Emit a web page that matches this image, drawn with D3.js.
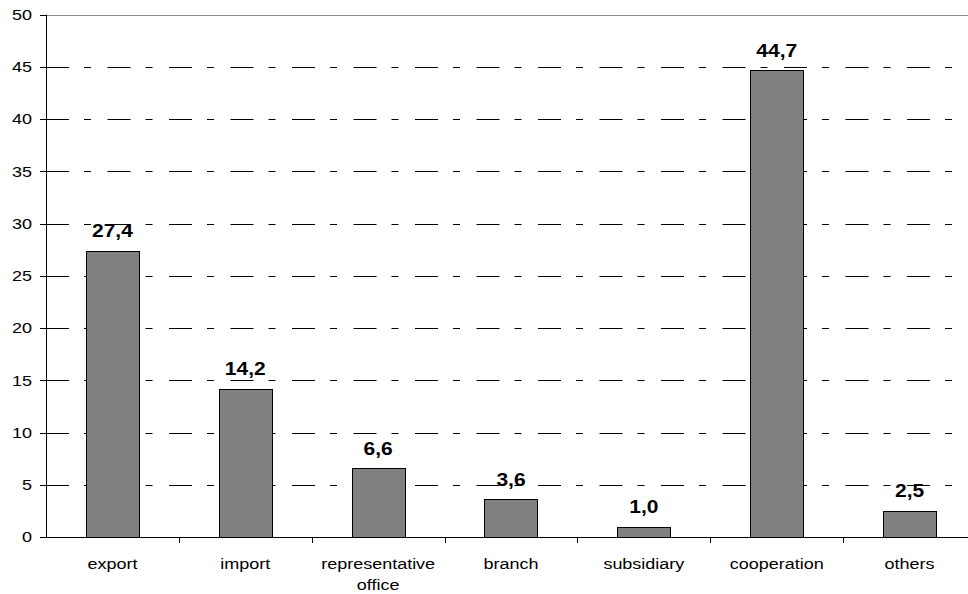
<!DOCTYPE html>
<html>
<head>
<meta charset="utf-8">
<script src="https://cdn.jsdelivr.net/npm/d3@7"></script>
<style>
  html, body { margin: 0; padding: 0; background: #fff; overflow: hidden; }
  svg { display: block; font-family: "Liberation Sans", Arial, sans-serif; }
</style>
</head>
<body>
<svg id="chart" width="968" height="594"></svg>
<script>
const categories = ["export", "import", "representative office", "branch", "subsidiary", "cooperation", "others"];
const values = [27.4, 14.2, 6.6, 3.6, 1.0, 44.7, 2.5];
const valueLabels = ["27,4", "14,2", "6,6", "3,6", "1,0", "44,7", "2,5"];
const yTicks = [0, 5, 10, 15, 20, 25, 30, 35, 40, 45, 50];

(function () {
const svg = d3.select("#chart");
const mLeft = 46, mRight = 976, mTop = 14.7, mBottom = 537;
const SX = 1.2; // horizontal stretch of the original text

const x = d3.scaleBand().domain(categories).range([mLeft, mRight]).paddingInner(0).paddingOuter(0);
const y = d3.scaleLinear().domain([0, 50]).range([mBottom, mTop]);
const barW = x.bandwidth() * 0.4;

// gridlines
svg.append("g").selectAll("line").data(yTicks.filter(d => d > 0 && d < 50)).join("line")
  .attr("x1", mLeft).attr("x2", 968)
  .attr("y1", d => Math.round(y(d)) + 0.5).attr("y2", d => Math.round(y(d)) + 0.5)
  .attr("stroke", "#000").attr("stroke-width", 1)
  .attr("stroke-dasharray", "23,15,7,16.5");
// top border
svg.append("line").attr("x1", mLeft).attr("x2", 968)
  .attr("y1", Math.round(y(50)) + 0.5).attr("y2", Math.round(y(50)) + 0.5)
  .attr("stroke", "#8a8a8a").attr("stroke-width", 1);

// bars
svg.append("g").selectAll("rect").data(values).join("rect")
  .attr("x", (d, i) => Math.round(x(categories[i]) + (x.bandwidth() - barW) / 2) + 0.5)
  .attr("y", d => Math.round(y(d)) + 0.5)
  .attr("width", Math.round(barW))
  .attr("height", d => Math.round(y(0)) - Math.round(y(d)))
  .attr("fill", "#808080").attr("stroke", "#000").attr("stroke-width", 1);

// value labels
svg.append("g").selectAll("text").data(values).join("text")
  .attr("transform", (d, i) => `translate(${x(categories[i]) + x.bandwidth() / 2},${y(d) - 13.5}) scale(${SX},1)`)
  .attr("text-anchor", "middle")
  .attr("font-size", "17.5px").attr("font-weight", "bold").attr("fill", "#000")
  .text((d, i) => valueLabels[i]);

// y axis
const gy = svg.append("g");
gy.append("line").attr("x1", mLeft + 0.5).attr("x2", mLeft + 0.5).attr("y1", y(50)).attr("y2", y(0) + 1)
  .attr("stroke", "#000");
gy.selectAll("line.tick").data(yTicks).join("line").attr("class", "tick")
  .attr("x1", 40).attr("x2", mLeft)
  .attr("y1", d => Math.round(y(d)) + 0.5).attr("y2", d => Math.round(y(d)) + 0.5)
  .attr("stroke", "#000");
gy.selectAll("text").data(yTicks).join("text")
  .attr("transform", d => `translate(32,${y(d) + 5.3}) scale(${SX},1)`)
  .attr("text-anchor", "end").attr("font-size", "15px").attr("fill", "#000")
  .text(d => d);

// x axis
const gx = svg.append("g");
gx.append("line").attr("x1", mLeft).attr("x2", 968)
  .attr("y1", Math.round(y(0)) + 0.5).attr("y2", Math.round(y(0)) + 0.5).attr("stroke", "#000");
gx.selectAll("line.tick").data(categories.slice(1)).join("line").attr("class", "tick")
  .attr("x1", d => Math.round(x(d)) + 0.5).attr("x2", d => Math.round(x(d)) + 0.5)
  .attr("y1", Math.round(y(0))).attr("y2", Math.round(y(0)) + 6)
  .attr("stroke", "#000");
const labels = gx.selectAll("text").data(categories).join("text")
  .attr("transform", d => `translate(${x(d) + x.bandwidth() / 2},569) scale(${SX},1)`)
  .attr("text-anchor", "middle").attr("font-size", "15px").attr("fill", "#000");
labels.each(function(d) {
  const t = d3.select(this);
  const parts = d === "representative office" ? ["representative", "office"] : [d];
  parts.forEach((p, k) => t.append("tspan").attr("x", 0).attr("dy", k === 0 ? 0 : 21).text(p));
});
})();
</script>
</body>
</html>
